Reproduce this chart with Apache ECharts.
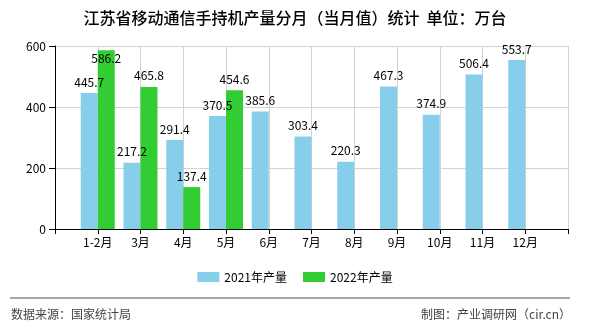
<!DOCTYPE html>
<html>
<head>
<meta charset="utf-8">
<script src="https://cdn.jsdelivr.net/npm/echarts@6/dist/echarts.min.js"></script>
<style>
html,body{margin:0;padding:0;background:#fff;}
#chart{width:590px;height:330px;}
</style>
</head>
<body>
<div id="chart"></div>
<script>
var categories = ['1-2月','3月','4月','5月','6月','7月','8月','9月','10月','11月','12月'];
var values2021 = [445.7,217.2,291.4,370.5,385.6,303.4,220.3,467.3,374.9,506.4,553.7];
var values2022 = [586.2,465.8,137.4,454.6];
var seriesNames = ['2021年产量','2022年产量'];
var yTicks = [0,200,400,600];
var titleText = '江苏省移动通信手持机产量分月（当月值）统计  单位：万台';
var sourceText = '数据来源：国家统计局';
var makerText = '制图：产业调研网（cir.cn）';

var FONT = '"Noto Sans CJK SC","Noto Sans",sans-serif';
var axisData = [''].concat(categories).concat(['']);

function buildData(vals){
  var out = [null];
  for (var i = 0; i < categories.length; i++) {
    var v = i < vals.length ? vals[i] : null;
    if (v === null) { out.push(null); continue; }
    if (v > 570) {
      out.push({value: v, label: {position: 'insideTop', distance: 2}});
    } else {
      out.push(v);
    }
  }
  out.push(null);
  return out;
}

var chart = echarts.init(document.getElementById('chart'), null, {renderer: 'canvas'});
chart.setOption({
  animation: false,
  backgroundColor: '#fff',
  title: {
    text: titleText,
    left: 'center',
    top: 5,
    textStyle: {fontFamily: FONT, fontSize: 16, fontWeight: 500, color: '#000'}
  },
  legend: {
    data: seriesNames,
    top: 266,
    left: 'center',
    itemWidth: 22,
    itemHeight: 10,
    itemGap: 16,
    icon: 'rect',
    textStyle: {fontFamily: FONT, fontSize: 12, color: '#000'}
  },
  grid: {left: 55, right: 22, top: 46, bottom: 101, containLabel: false},
  xAxis: {
    type: 'category',
    data: axisData,
    boundaryGap: false,
    axisLine: {lineStyle: {color: '#000', width: 1}},
    axisTick: {show: true, length: 5, interval: 0, lineStyle: {color: '#000'}},
    axisLabel: {interval: 0, color: '#000', fontFamily: FONT, fontSize: 12, margin: 7},
    splitLine: {show: true, interval: 0, lineStyle: {color: '#d3d3d3', width: 1}}
  },
  yAxis: {
    type: 'value',
    min: yTicks[0],
    max: yTicks[yTicks.length - 1],
    interval: yTicks[1] - yTicks[0],
    axisLine: {show: true, lineStyle: {color: '#000', width: 1}},
    axisTick: {show: true, length: 6, lineStyle: {color: '#000'}},
    axisLabel: {color: '#000', fontFamily: FONT, fontSize: 12, margin: 9},
    splitLine: {show: true, lineStyle: {color: '#d3d3d3', width: 1}}
  },
  series: [
    {
      name: seriesNames[0],
      type: 'bar',
      data: buildData(values2021),
      barWidth: 17,
      barGap: '0%',
      itemStyle: {color: '#87CEEB'},
      label: {show: true, position: 'top', distance: 5, color: '#000', fontFamily: FONT, fontSize: 12}
    },
    {
      name: seriesNames[1],
      type: 'bar',
      data: buildData(values2022),
      barWidth: 17,
      barGap: '0%',
      itemStyle: {color: '#32CD32'},
      label: {show: true, position: 'top', distance: 5, color: '#000', fontFamily: FONT, fontSize: 12}
    }
  ],
  graphic: [
    {type: 'line', shape: {x1: 10, y1: 298, x2: 570, y2: 298}, style: {stroke: '#888', lineWidth: 1.5}},
    {type: 'text', left: 11, top: 308, style: {text: sourceText, font: '12px ' + FONT, fill: '#444'}},
    {type: 'text', right: 19, top: 308, style: {text: makerText, font: '12px ' + FONT, fill: '#444'}}
  ]
});
</script>
</body>
</html>
